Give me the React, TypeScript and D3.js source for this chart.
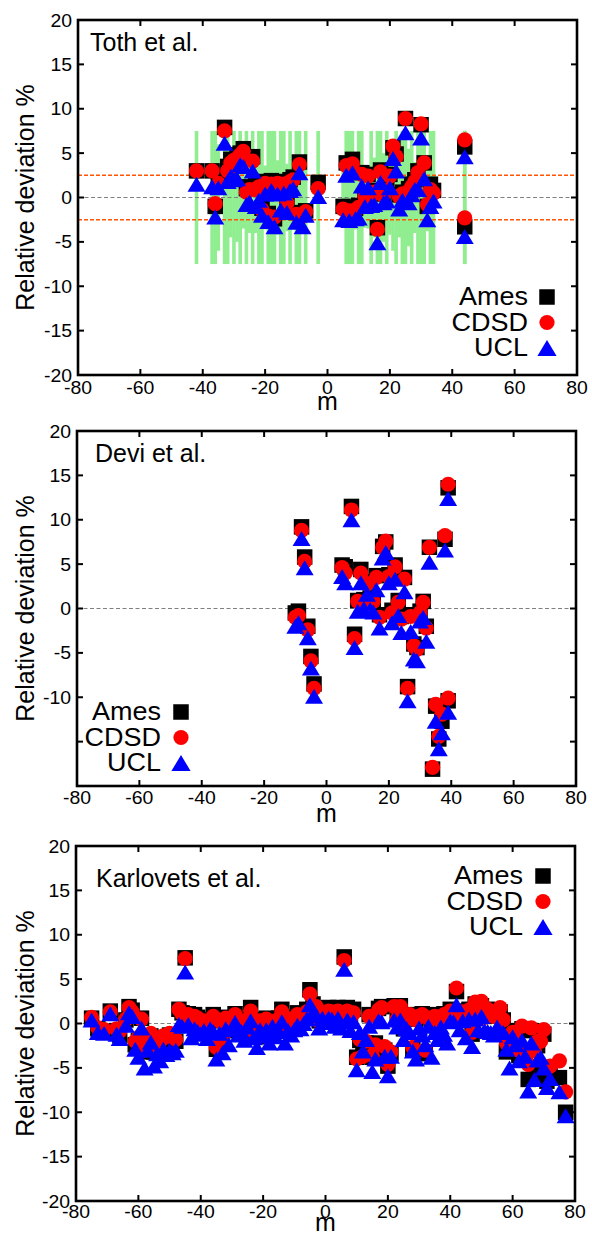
import React from 'react';
import * as d3 from 'd3';

// Axis ticks shared by the three panels
const xTicks = [-80, -60, -40, -20, 0, 20, 40, 60, 80];
const yTicks = [20, 15, 10, 5, 0, -5, -10, -15, -20];
const yTickLabelsFull = [20, 15, 10, 5, 0, -5, -10, -15, -20];
const yTickLabelsDevi = [20, 15, 10, 5, 0, -5, -10];

const seriesNames = ['Ames', 'CDSD', 'UCL'];

// Toth et al.: line index m, relative deviations (%) and experimental uncertainty (%)
const tothM = [
  -42, -37, -36, -35, -33, -32, -31, -30, -29, -28,
  -27, -26, -25, -24, -23, -22, -21, -20, -19, -18,
  -17, -16, -15, -14, -13, -12, -11, -10, -9, -8,
  -7, -3, 5, 6, 7, 8, 9, 10, 11, 12,
  13, 14, 15, 16, 17, 18, 19, 20, 21, 22,
  23, 24, 25, 26, 27, 28, 29, 30, 31, 32,
  33, 34, 44, 44,
];
const tothAmes = [
  3.0, 3.0, -1.0, 2.2, 7.9, 3.5, 4.3, 3.8, 4.8, 5.0,
  5.5, 1.0, 1.2, 4.6, 1.5, 1.7, -1.2, 1.8, -1.8, 1.9,
  -2.4, 1.8, 1.4, 1.7, -0.4, 2.0, 2.3, -1.7, 4.0, -1.8,
  -1.5, 1.7, -1.0, 3.9, -1.3, 4.3, -1.2, -0.9, 2.8, 0.3,
  2.6, 0.5, 0.8, -3.4, 3.1, 0.4, 1.0, 2.6, 5.6, 4.9,
  0.3, 0.6, 8.9, 1.0, 1.5, 2.0, 3.0, 8.2, 3.9, -1.0,
  1.5, 0.8, 5.7, -3.3,
];
const tothCdsd = [
  3.0, 3.0, -0.7, 1.6, 7.5, 3.0, 3.9, 4.2, 4.4, 4.8,
  5.2, 0.6, 0.9, 4.1, 0.9, 1.2, -1.4, 1.6, -2.1, 1.5,
  -2.2, 1.6, 1.2, 1.5, -0.6, 1.8, 2.0, -1.9, 3.7, -2.1,
  -1.6, 1.0, -1.3, 3.6, -1.5, 3.8, -1.4, -1.1, 2.6, 0.1,
  2.4, 0.2, 0.6, -3.6, 2.9, 0.2, 0.8, 2.4, 5.8, 4.6,
  0.1, 0.4, 8.9, 0.7, 1.2, 1.8, 2.8, 8.3, 3.9, -0.8,
  0.9, 0.5, 6.5, -2.3,
];
const tothUcl = [
  1.5, 1.2, -2.2, 1.1, 6.1, 1.8, 2.4, 2.0, 2.1, 3.7,
  3.5, -0.8, -0.5, 3.0, -1.0, -0.3, -2.0, 0.4, -2.7, 0.8,
  -3.3, 0.4, -1.4, 0.5, -1.7, 0.8, 1.0, -2.8, 2.8, -3.3,
  -2.0, 0.1, -2.5, 2.5, -2.6, 2.8, -2.4, -2.3, 1.3, -1.0,
  1.1, -0.9, -0.8, -5.1, 1.7, -0.6, -0.4, 1.1, 4.4, 3.0,
  -1.3, -0.3, 7.3, -0.6, 0.3, 0.9, 0.9, 6.7, 2.1, -2.5,
  -1.0, -0.4, 4.6, -4.4,
];
const tothUncertainty = [
  7.5, 7.5, 7.5, 6.0, 7.5, 7.5, 4.5, 7.5, 5.0, 7.5,
  3.5, 7.5, 4.0, 7.5, 4.0, 7.5, 7.5, 3.6, 7.5, 7.5,
  7.5, 4.2, 7.5, 7.5, 3.8, 7.5, 3.5, 7.5, 7.5, 4.0,
  7.5, 7.5, 3.2, 7.5, 7.5, 7.5, 3.6, 7.5, 7.5, 3.4,
  3.5, 7.5, 4.5, 7.5, 7.5, 5.0, 7.5, 4.2, 6.0, 7.5,
  4.5, 7.5, 7.5, 5.5, 7.5, 4.0, 7.5, 7.5, 7.5, 3.8,
  7.5, 7.5, 7.5, 7.5,
];

// Devi et al.
const deviM = [
  -10, -9, -8, -7, -6, -5, -4, 5, 6, 8,
  9, 10, 11, 12, 13, 14, 15, 16, 17, 18,
  19, 20, 21, 22, 23, 24, 25, 26, 27, 28,
  29, 30, 31, 32, 33, 34, 35, 36, 37, 38,
  39, 39,
];
const deviAmes = [
  -0.5, -0.3, 9.2, 5.8, -2.0, -5.4, -8.5, 4.9, 4.7, 11.5,
  -2.9, 0.9, 4.4, 1.0, 3.0, 1.2, 0.9, 3.7, -0.7, 7.0,
  7.5, 3.8, -0.2, 4.9, 0.9, -0.9, 3.5, -8.8, -0.7, -4.0,
  -4.4, -0.3, 0.8, -2.0, 6.9, -18.1, -11.0, -14.7, -12.7, 7.8,
  13.6, -10.4,
];
const deviCdsd = [
  -1.0, -0.8, 8.8, 5.3, -2.4, -5.9, -9.0, 4.6, 4.0, 11.1,
  -3.4, 0.8, 4.0, 0.6, 2.8, 0.9, 0.8, 3.5, -1.0, 6.9,
  7.6, 3.6, -0.5, 4.7, 0.7, -1.2, 3.3, -9.0, -0.9, -4.2,
  -4.6, -0.5, 0.7, -2.2, 6.9, -17.9, -10.8, -14.4, -11.9, 8.2,
  14.0, -10.1,
];
const deviUcl = [
  -2.0, -1.6, 7.9, 4.6, -3.3, -6.7, -9.9, 3.6, 2.9, 10.0,
  -4.4, -0.3, 2.9, 0.0, 1.6, -0.1, -0.4, 2.1, -2.2, 5.7,
  6.3, 2.9, -1.6, 3.3, -0.8, -2.7, 1.9, -10.4, -2.6, -5.7,
  -5.9, -1.4, -1.0, -3.7, 5.2, null, -12.7, -15.8, -14.0, 6.6,
  12.4, -11.7,
];

// Karlovets et al.
const karlM = [
  -75, -73, -71, -69, -67, -66, -64, -63, -62, -61,
  -60, -59, -58, -57, -56, -55, -54, -53, -52, -51,
  -50, -49, -48, -47, -46, -45, -44, -43, -42, -41,
  -40, -39, -38, -37, -36, -35, -34, -33, -32, -31,
  -30, -29, -28, -27, -26, -25, -24, -23, -22, -21,
  -20, -19, -18, -17, -16, -15, -14, -13, -12, -11,
  -10, -9, -8, -7, -6, -5, -4, -3, -2, -1,
  0, 1, 2, 3, 4, 5, 6, 7, 8, 9,
  10, 11, 12, 13, 14, 15, 16, 17, 18, 19,
  20, 21, 22, 23, 24, 25, 26, 27, 28, 29,
  30, 31, 32, 33, 34, 35, 36, 37, 38, 39,
  40, 41, 42, 43, 44, 45, 46, 47, 48, 49,
  50, 51, 52, 53, 54, 55, 56, 57, 58, 59,
  60, 61, 62, 63, 64, 65, 66, 67, 68, 69,
  70, 71, 72, 75, 77,
];
const karlAmes = [
  0.6, -0.6, -0.9, 1.4, -0.8, -1.3, 0.4, 1.9, 1.5, -2.4,
  -1.9, 0.6, -3.2, -2.5, -1.4, -3.2, -2.5, -2.2, -1.6, -1.8,
  -1.3, -1.8, -2.0, 1.6, 1.2, 7.4, 1.1, 0.2, 1.0, 0.7,
  -0.2, 0.4, -0.9, 0.3, 1.0, -2.9, 0.4, -1.8, 0.7, -0.5,
  0.6, 1.1, -0.8, 0.4, -1.0, 0.4, 1.8, 0.2, -1.5, 0.4,
  -0.6, 0.6, -1.2, 0.3, -0.2, 0.6, 1.6, -0.6, 0.7, -0.5,
  0.5, 1.2, 0.3, 1.0, 1.6, 3.8, 2.2, 1.6, 0.3, 1.5,
  0.7, 1.8, 1.6, 0.2, 1.8, 0.4, 7.5, 1.8, 0.3, 1.6,
  -3.8, -1.9, -3.5, -2.2, 1.0, -3.8, -2.2, 1.7, 1.9, -3.0,
  -4.8, -3.4, 2.0, 0.6, 2.0, -0.6, 0.6, 1.0, -2.9, 0.5,
  0.9, 1.1, -3.4, 0.8, 0.4, 1.0, 0.5, 0.7, 1.1, 0.6,
  1.6, 1.3, 3.6, 1.0, 1.4, 0.5, 1.6, -1.2, 2.2, 1.6,
  2.0, 0.8, 1.6, 1.0, 0.9, 1.2, 1.3, 0.4, -3.2, -2.6,
  -0.8, -1.8, -3.6, -0.6, -4.0, -6.3, -0.8, -6.1, -2.5, -5.5,
  -1.2, -6.5, -5.9, -6.1, -10.0,
];
const karlCdsd = [
  0.7, -0.5, -0.7, 1.3, -0.6, -0.9, 0.5, 1.8, 1.3, -2.0,
  -1.6, 0.5, -3.0, -2.4, -1.1, -2.9, -2.2, -2.0, -1.4, -1.5,
  -1.1, -1.5, -1.8, 1.6, 1.1, 7.3, 1.0, 0.1, 0.8, 0.6,
  -0.3, 0.3, -0.7, 0.2, 0.8, -2.7, 0.3, -1.6, 0.6, -0.4,
  0.5, 1.0, -0.7, 0.3, -0.9, 0.3, 1.4, 0.1, -1.3, 0.3,
  -0.4, 0.5, -1.0, 0.2, -0.1, 0.5, 1.3, -0.5, 0.5, -0.4,
  0.4, 1.0, 0.2, 0.8, 1.3, 3.3, 2.0, 1.9, 0.2, 1.2,
  0.6, 1.4, 1.3, 0.1, 1.4, 0.3, 7.1, 1.4, 0.2, 1.2,
  -4.0, -1.8, -3.7, -2.0, 0.8, -3.6, -2.4, 1.5, 1.8, -2.6,
  -4.6, -3.2, 1.9, 0.5, 1.9, -0.4, 0.5, 1.0, -2.7, 0.4,
  0.8, 1.0, -3.0, 0.6, 0.3, 0.8, 0.4, 0.6, 1.0, 0.5,
  1.4, 1.2, 4.0, 0.9, 1.3, 0.4, 1.5, -1.0, 2.4, 1.5,
  2.5, 0.7, 1.6, 1.2, 0.8, 1.0, 1.8, 0.4, -2.2, -2.3,
  -1.0, -1.5, -3.0, -0.3, -3.5, -4.6, -0.5, -3.1, -2.0, -2.0,
  -0.7, -5.0, -4.8, -4.2, -7.7,
];
const karlUcl = [
  0.4, -1.0, -1.1, 1.1, -1.2, -1.7, -0.2, 1.2, 0.8, -2.9,
  -3.8, -0.5, -5.0, -3.0, -2.1, -4.8, -3.4, -4.2, -2.9, -3.5,
  -3.0, -3.3, -3.0, -0.1, -0.3, 5.8, -0.1, -1.6, -0.6, -0.9,
  -1.2, -0.8, -1.7, -0.6, -0.9, -4.0, -1.1, -3.3, -0.6, -2.4,
  -0.7, 0.1, -1.3, -0.9, -1.9, -0.4, 0.3, -1.6, -2.7, -0.7,
  -1.4, -0.7, -2.2, -0.3, -1.5, -0.9, 0.2, -2.2, -0.8, -1.3,
  -0.7, -0.2, -0.6, 0.0, 0.5, 2.1, 1.2, 0.9, -0.5, 0.6,
  0.1, 0.6, 0.5, -0.3, 0.6, -0.5, 6.1, 0.4, -0.8, 0.2,
  -5.2, -1.0, -3.1, -1.8, -0.3, -5.4, -4.0, 0.3, 0.2, -3.7,
  -5.9, -3.7, 0.4, -0.4, 0.4, -1.8, -0.6, -1.0, -3.1, -4.0,
  -0.5, -1.3, -2.4, -0.3, -3.8, -1.0, -1.8, -0.4, -1.2, -2.2,
  0.3, 0.2, 2.1, -0.7, 0.3, -1.6, 0.5, -2.6, 0.5, -0.7,
  0.8, -0.8, -0.9, -1.0, -1.3, -0.4, -0.9, -1.0, -2.9, -5.0,
  -1.5, -2.4, -4.2, -1.9, -3.7, -7.6, -2.2, -6.3, -4.1, -3.8,
  -5.0, -7.2, -6.2, -7.7, -10.4,
];

const FONT = "'Liberation Sans', Arial, Helvetica, sans-serif";

type Row = { m: number; ames: number | null; cdsd: number | null; ucl: number | null; err?: number };

const zip = (m: number[], a: (number | null)[], c: (number | null)[], u: (number | null)[], e?: number[]): Row[] =>
  m.map((v, i) => ({ m: v, ames: a[i], cdsd: c[i], ucl: u[i], err: e ? e[i] : undefined }));

// Upward triangle centred on its bounding box
const boxTriangle: d3.SymbolType = {
  draw(ctx, size) {
    const h = Math.sqrt(size);
    const w = h * 1.2;
    ctx.moveTo(0, -h / 2);
    ctx.lineTo(w / 2, h / 2);
    ctx.lineTo(-w / 2, h / 2);
    ctx.closePath();
  },
};

const squarePath = d3.symbol(d3.symbolSquare, 15.5 * 15.5)() as string;
const circlePath = d3.symbol(d3.symbolCircle, Math.PI * 7.6 * 7.6)() as string;
const trianglePath = d3.symbol(boxTriangle, 15 * 15)() as string;
const legendTrianglePath = d3.symbol(boxTriangle, 16 * 16)() as string;

const markerStyles = [
  { path: squarePath, fill: '#000000' },
  { path: circlePath, fill: '#ff0000' },
  { path: trianglePath, fill: '#0000ff' },
];

type Txt = {
  x: number; y: number; size: number; anchor?: 'start' | 'middle' | 'end'; sx?: number; rotate?: number; children: React.ReactNode;
};
const Label = ({ x, y, size, anchor = 'start', sx = 1, rotate = 0, children }: Txt) => (
  <text
    transform={`translate(${x},${y}) rotate(${rotate}) scale(${sx},1)`}
    textAnchor={anchor}
    fontSize={size}
    fontFamily={FONT}
    fill="#000"
  >
    {children}
  </text>
);

type PanelProps = {
  id: string;
  frame: { left: number; right: number; top: number; bottom: number };
  title: string;
  titleAt: [number, number];
  rows: Row[];
  showBars?: boolean;
  bandLimit?: number;
  legend: { textRight: number; firstBaseline: number; symbolX: number };
  yLabels: number[];
  tickBaseline: number;
  mBaseline: number;
};

function Panel({ id, frame, title, titleAt, rows, showBars, bandLimit, legend, yLabels, tickBaseline, mBaseline }: PanelProps) {
  const x = d3.scaleLinear().domain([-80, 80]).range([frame.left, frame.right]);
  const y = d3.scaleLinear().domain([-20, 20]).range([frame.bottom, frame.top]);
  const tickLen = 6;
  const keys: ('ames' | 'cdsd' | 'ucl')[] = ['ames', 'cdsd', 'ucl'];
  const rowGap = 25.5;

  return (
    <g>
      <defs>
        <clipPath id={`clip-${id}`}>
          <rect x={frame.left} y={frame.top} width={frame.right - frame.left} height={frame.bottom - frame.top} />
        </clipPath>
      </defs>
      <g clipPath={`url(#clip-${id})`}>
        {showBars &&
          rows.map((r, i) =>
            r.err != null ? (
              <rect
                key={`b${i}`}
                x={x(r.m) - 1.8}
                width={3.6}
                y={y(r.err)}
                height={y(-r.err) - y(r.err)}
                fill="#90ee90"
              />
            ) : null
          )}
        <line x1={frame.left} x2={frame.right} y1={y(0)} y2={y(0)} stroke="#808080" strokeWidth={1.2} strokeDasharray="4,2.5" />
        {bandLimit != null &&
          [bandLimit, -bandLimit].map((v) => (
            <line
              key={v}
              x1={frame.left}
              x2={frame.right}
              y1={y(v)}
              y2={y(v)}
              stroke="#ff5500"
              strokeWidth={1.5}
              strokeDasharray="4,2"
            />
          ))}
        {keys.map((k, si) =>
          rows.map((r, i) => {
            const v = r[k];
            if (v == null) return null;
            return (
              <path
                key={`${k}${i}`}
                d={markerStyles[si].path}
                transform={`translate(${x(r.m)},${y(v)})`}
                fill={markerStyles[si].fill}
              />
            );
          })
        )}
      </g>

      {/* frame and inward ticks */}
      <rect
        x={frame.left}
        y={frame.top}
        width={frame.right - frame.left}
        height={frame.bottom - frame.top}
        fill="none"
        stroke="#000"
        strokeWidth={2.6}
      />
      {xTicks.slice(1, -1).map((t) => (
        <g key={`xt${t}`} stroke="#000" strokeWidth={2}>
          <line x1={x(t)} x2={x(t)} y1={frame.bottom} y2={frame.bottom - tickLen} />
          <line x1={x(t)} x2={x(t)} y1={frame.top} y2={frame.top + tickLen} />
        </g>
      ))}
      {yTicks.slice(1, -1).map((t) => (
        <g key={`yt${t}`} stroke="#000" strokeWidth={2}>
          <line x1={frame.left} x2={frame.left + tickLen} y1={y(t)} y2={y(t)} />
          <line x1={frame.right} x2={frame.right - tickLen} y1={y(t)} y2={y(t)} />
        </g>
      ))}

      {xTicks.map((t) => (
        <Label key={`xl${t}`} x={x(t)} y={tickBaseline} size={18} sx={1.08} anchor="middle">
          {t}
        </Label>
      ))}
      {yLabels.map((t) => (
        <Label key={`yl${t}`} x={frame.left - 6} y={y(t) + 6.5} size={18} sx={1.08} anchor="end">
          {t}
        </Label>
      ))}

      <Label x={x(0)} y={mBaseline} size={25} anchor="middle">m</Label>
      <Label x={34} y={(frame.top + frame.bottom) / 2} size={25} anchor="middle" rotate={-90}>
        Relative deviation %
      </Label>
      <Label x={titleAt[0]} y={titleAt[1]} size={25}>{title}</Label>

      {seriesNames.map((name, i) => {
        const base = legend.firstBaseline + i * rowGap;
        return (
          <g key={name}>
            <Label x={legend.textRight} y={base} size={25} sx={1.08} anchor="end">{name}</Label>
            <path
              d={i === 2 ? legendTrianglePath : markerStyles[i].path}
              transform={`translate(${legend.symbolX},${base - 8})`}
              fill={markerStyles[i].fill}
            />
          </g>
        );
      })}
    </g>
  );
}

export default function App() {
  const toth = zip(tothM, tothAmes, tothCdsd, tothUcl, tothUncertainty);
  const devi = zip(deviM, deviAmes, deviCdsd, deviUcl);
  const karl = zip(karlM, karlAmes, karlCdsd, karlUcl);

  return (
    <svg
      width={592}
      height={1236}
      viewBox="0 0 592 1236"
      style={{ position: 'absolute', left: 0, top: 0, background: '#fff' }}
    >
      <rect width={592} height={1236} fill="#fff" />
      <Panel
        id="toth"
        frame={{ left: 78, right: 577, top: 20, bottom: 375 }}
        title="Toth et al."
        titleAt={[90, 51]}
        rows={toth}
        showBars
        bandLimit={2.5}
        legend={{ textRight: 528, firstBaseline: 305, symbolX: 547 }}
        yLabels={yTickLabelsFull}
        tickBaseline={394}
        mBaseline={410}
      />
      <Panel
        id="devi"
        frame={{ left: 77, right: 576, top: 431, bottom: 786 }}
        title="Devi et al."
        titleAt={[95, 462]}
        rows={devi}
        legend={{ textRight: 161, firstBaseline: 720, symbolX: 181 }}
        yLabels={yTickLabelsDevi}
        tickBaseline={804}
        mBaseline={822}
      />
      <Panel
        id="karl"
        frame={{ left: 76, right: 575, top: 846, bottom: 1201 }}
        title="Karlovets et al."
        titleAt={[96, 887]}
        rows={karl}
        legend={{ textRight: 523, firstBaseline: 884, symbolX: 543 }}
        yLabels={yTickLabelsFull}
        tickBaseline={1218}
        mBaseline={1231}
      />
    </svg>
  );
}
